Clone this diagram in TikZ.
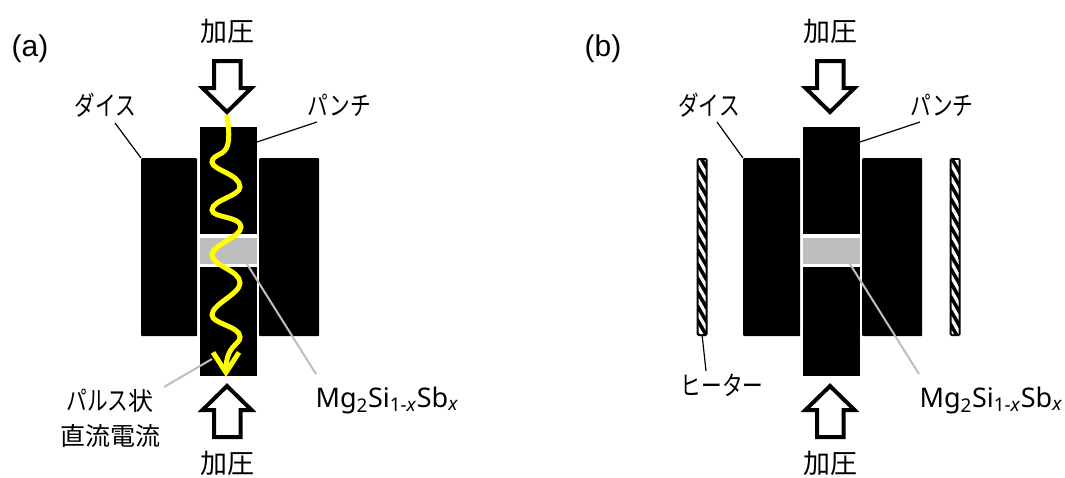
\documentclass[tikz,border=0pt]{standalone}
\usepackage{fontspec}
\setmainfont{Liberation Sans}
\newfontfamily\jpfont{Noto Sans CJK JP}
\newfontfamily\kanafont[FakeStretch=0.78]{Noto Sans CJK JP}
\newfontfamily\formulafont{Noto Sans}
\usetikzlibrary{arrows.meta,patterns.meta}
\definecolor{LeadGray}{HTML}{BEBEBE}
\definecolor{WaveYellow}{HTML}{FFFF00}
\tikzset{
  pics/press/.style={code={
    \draw[line width=4pt, fill=white, miter limit=10]
      (0,0) -- (24.5,-24) -- (13.5,-24) -- (13.5,-51) -- (-13,-51) -- (-13,-24) -- (-24.5,-24) -- cycle;
  }}
}
\begin{document}
\begin{tikzpicture}[
    x=1pt, y=-1pt,
    block/.style={fill=black, rounded corners=1pt, inner sep=0pt, anchor=north west},
    sample/.style={fill=LeadGray, inner sep=0pt, anchor=north west},
    heater/.style={draw=black, line width=4pt, rounded corners=0.6pt, inner sep=0pt, anchor=north west,
      minimum width=7pt, minimum height=174pt, fill=black,
      postaction={pattern={Lines[angle=120,distance=7pt,line width=3.2pt]}, pattern color=white}},
    label/.style={font=\kanafont\fontsize{26.5}{27}\selectfont, inner sep=0pt, align=center},
    title/.style={font=\jpfont\fontsize{27}{30}\selectfont, inner sep=0pt},
    tag/.style={font=\fontsize{30}{34}\selectfont, inner sep=0pt},
    formula/.style={font=\formulafont\fontsize{27}{30}\selectfont, inner sep=0pt},
    leader/.style={black, line width=1.2pt},
    grayleader/.style={LeadGray, line width=2pt},
    wave/.style={WaveYellow, line width=5pt, -{Straight Barb[length=20pt,width=26pt,line width=5pt]}}
  ]
  \useasboundingbox (0,0) rectangle (1065,477);

  % panel a
  \node[tag] (taga) at (30,49) {(a)};
  \node[block, minimum width=56pt, minimum height=178pt] (dieLa) at (141,158) {};
  \node[block, minimum width=60pt, minimum height=178pt] (dieRa) at (259,158) {};
  \node[block, minimum width=57pt, minimum height=107pt, rounded corners=0pt] (punchUa) at (200,127) {};
  \node[sample, minimum width=57pt, minimum height=26pt] (samplea) at (200,238) {};
  \node[block, minimum width=57pt, minimum height=109pt, rounded corners=0pt] (punchDa) at (200,267) {};
  \pic at (227,112) {press};
  \pic[yscale=-1] at (227,386) {press};
  \node[title] (pressTa) at (227,31) {加圧};
  \node[title] (pressBa) at (227,463) {加圧};
  \node[label] (dieNa) at (105.5,105) {ダイス};
  \node[label] (punchNa) at (339.5,105) {パンチ};
  \node[label] (pulseNa) at (110,401) {パルス{\jpfont\fontsize{25}{27}\selectfont 状}};
  \node[label] (pulseMa) at (110,436) {{\jpfont\fontsize{25}{27}\selectfont 直流電流}};
  \node[formula] (mata) at (387,400) {Mg\textsubscript{2}Si\textsubscript{1-\textit{x}}Sb\textsubscript{\textit{x}}};
  \coordinate (dieEa) at (115,123);
  \coordinate (punchEa) at (317,122);
  \draw[leader] (dieEa) -- (dieLa.north west);
  \draw[leader] (punchEa) -- (257,142);
  \draw[grayleader] (247,264) -- (316,374);
  \draw[grayleader] (212,359) -- (164,387);
  \draw[wave] (226.7,115) .. controls (230,135) and (230,148) .. (222,153)
    .. controls (216,156) and (212,158) .. (212,162)
    .. controls (212,170) and (240,174) .. (240,187)
    .. controls (240,196) and (212,200) .. (212,210)
    .. controls (212,218) and (241,216) .. (241,227)
    .. controls (241,237) and (212,245) .. (212,255)
    .. controls (212,266) and (240,270) .. (240,283)
    .. controls (240,294) and (212,304) .. (212,315)
    .. controls (212,324) and (240,326) .. (240,337)
    .. controls (240,345) and (226,345) .. (226,377);

  % panel b
  \node[tag] (tagb) at (603,49) {(b)};
  \node[heater] (heatLb) at (696.7,158) {};
  \node[heater] (heatRb) at (949.7,158) {};
  \node[block, minimum width=57pt, minimum height=178pt] (dieLb) at (743,158) {};
  \node[block, minimum width=60pt, minimum height=178pt] (dieRb) at (862,158) {};
  \node[block, minimum width=57pt, minimum height=107pt, rounded corners=0pt] (punchUb) at (803,127) {};
  \node[sample, minimum width=57pt, minimum height=26pt] (sampleb) at (803,238) {};
  \node[block, minimum width=57pt, minimum height=109pt, rounded corners=0pt] (punchDb) at (803,267) {};
  \pic at (830,112) {press};
  \pic[yscale=-1] at (830,386) {press};
  \node[title] (pressTb) at (830,31) {加圧};
  \node[title] (pressBb) at (830,463) {加圧};
  \node[label] (dieNb) at (709,105) {ダイス};
  \node[label] (punchNb) at (942,105) {パンチ};
  \node[label] (heatNb) at (722,385) {ヒーター};
  \node[formula] (matb) at (991,400) {Mg\textsubscript{2}Si\textsubscript{1-\textit{x}}Sb\textsubscript{\textit{x}}};
  \coordinate (dieEb) at (717,122);
  \coordinate (punchEb) at (920,122);
  \draw[leader] (dieEb) -- (dieLb.north west);
  \draw[leader] (punchEb) -- (860,142);
  \draw[grayleader] (850,264) -- (919,374);
  \draw[leader] (heatLb.south) -- (706,371);
\end{tikzpicture}
\end{document}
